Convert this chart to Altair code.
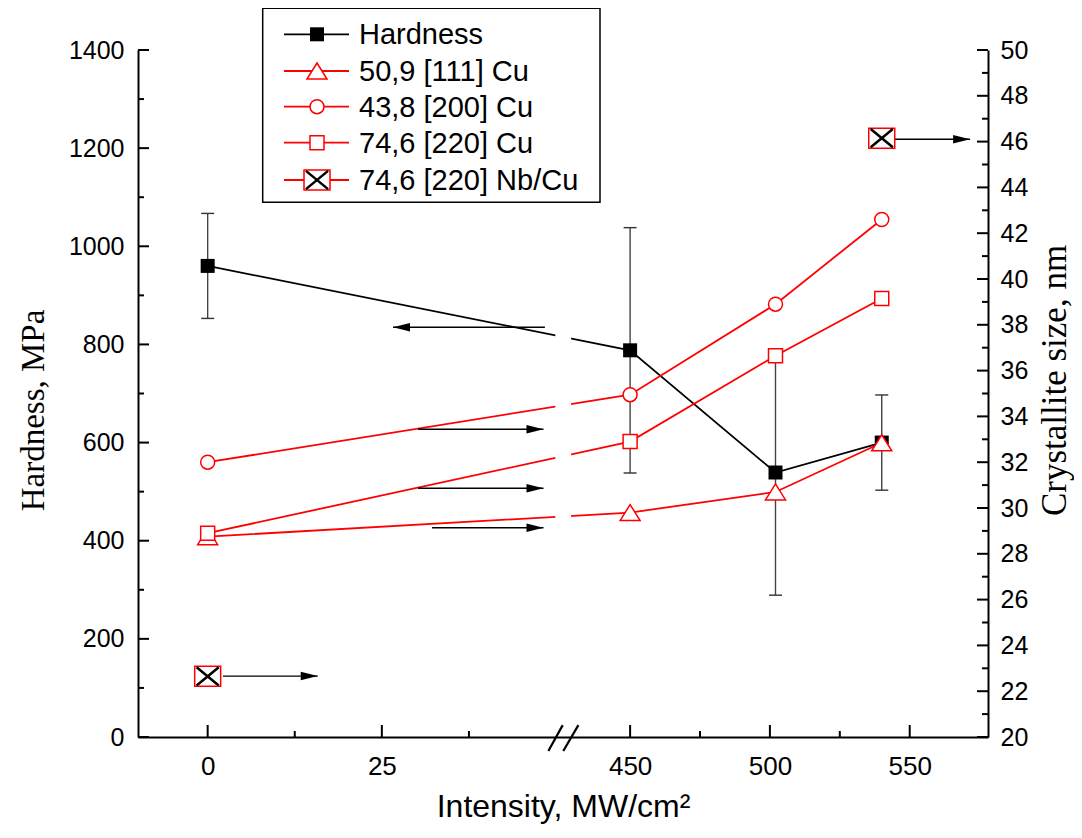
import altair as alt
import pandas as pd

# ---------------- data ----------------
intensity = [0, 450, 502, 540]
hardness = [960, 788, 539, 600]
hardness_err = [107, 250, 250, 97]

size_111 = [28.75, 29.8, 30.7, 32.85]
size_200 = [32.0, 34.95, 38.9, 42.6]
size_220 = [28.9, 32.9, 36.65, 39.15]

nbcu_intensity = [0, 540]
size_nbcu = [22.65, 46.15]

series_names = ["Hardness", "50,9 [111] Cu", "43,8 [200] Cu",
                "74,6 [220] Cu", "74,6 [220] Nb/Cu"]

x_ticks_major = [0, 25, 450, 500, 550]
x_ticks_minor = [12.5, 37.5, 475, 525]
h_ticks_major = list(range(0, 1401, 200))
h_ticks_minor = list(range(100, 1400, 200))
s_ticks_major = list(range(20, 51, 2))
s_ticks_minor = list(range(21, 50, 2))

# broken x axis: [-10, 51] then [426, 578]
x_domain = [-10, 51, 426, 578]
break_from, break_to = 49.9, 428.9

# annotation arrows
h_arrow_tail, h_arrow_tip, h_arrow_y = [48.4], [26.6], [835]
s_arrow_tail = [30.2, 30.2, 32.2, 2.2, 544.7]
s_arrow_tip = [48.2, 48.2, 48.2, 15.8, 571.6]
s_arrow_y = [33.44, 30.86, 29.14, 22.66, 46.1]

# break marks "//"
brk_x0 = [48.9, 426.1]
brk_x1 = [50.96, 431.5]
brk_y0 = [19.39, 19.39]
brk_y1 = [20.52, 20.52]

# ---------------- layout ----------------
W, H = 850, 687
RED = "#ff0000"
SANS = "Liberation Sans"
SERIF = "Liberation Serif"

xs = alt.Scale(domain=x_domain, range=[0, 425, 425, W], nice=False, zero=False)
yh = alt.Scale(domain=[0, 1400], nice=False, zero=False)
ysz = alt.Scale(domain=[20, 50], nice=False, zero=False)

ax_x = alt.Axis(values=x_ticks_major, ticks=False, grid=False, domainColor="black",
                domainWidth=2, labelFont=SANS, labelFontSize=26, labelColor="black",
                labelPadding=16, labelOverlap=False, labelFlush=False, format="d",
                title="Intensity, MW/cm²", titleFont=SANS, titleFontSize=32,
                titleFontWeight="normal", titleColor="black", titleY=54,
                titleBaseline="top")
ax_h = alt.Axis(values=h_ticks_major, ticks=False, grid=False, domainColor="black",
                domainWidth=2, labelFont=SANS, labelFontSize=25, labelColor="black",
                labelPadding=14, labelOverlap=False, labelFlush=False, format="d",
                title="Hardness, MPa", titleFont=SERIF, titleFontSize=33,
                titleFontWeight="normal", titleColor="black", titleAngle=270,
                titleX=-105, titleY=360, titleBaseline="middle", titleAlign="center",
                orient="left")
ax_s = alt.Axis(values=s_ticks_major, ticks=False, grid=False, domainColor="black",
                domainWidth=2, labelFont=SANS, labelFontSize=25, labelColor="black",
                labelPadding=12, labelOverlap=False, labelFlush=False, format="d",
                title="Crystallite size, nm", titleFont=SERIF, titleFontSize=35,
                titleFontWeight="normal", titleColor="black", titleAngle=270,
                titleX=66, titleY=330, titleBaseline="middle", titleAlign="center",
                orient="right")


def X(f):
    return alt.X(f, type="quantitative", scale=xs, axis=ax_x)


def YH(f):
    return alt.Y(f, type="quantitative", scale=yh, axis=ax_h)


def YS(f):
    return alt.Y(f, type="quantitative", scale=ysz, axis=ax_s)


# ---------------- tables ----------------
df_h = pd.DataFrame({"x": intensity, "h": hardness})
df_h["lo"] = [v - e for v, e in zip(hardness, hardness_err)]
df_h["hi"] = [v + e for v, e in zip(hardness, hardness_err)]
df_111 = pd.DataFrame({"x": intensity, "s": size_111})
df_200 = pd.DataFrame({"x": intensity, "s": size_200})
df_220 = pd.DataFrame({"x": intensity, "s": size_220})
df_nb = pd.DataFrame({"x": nbcu_intensity, "s": size_nbcu})
df_harrow = pd.DataFrame({"x0": h_arrow_tail, "x1": h_arrow_tip, "y": h_arrow_y})
df_sarrow = pd.DataFrame({"x0": s_arrow_tail, "x1": s_arrow_tip, "y": s_arrow_y})
df_xmaj = pd.DataFrame({"v": x_ticks_major})
df_xmin = pd.DataFrame({"v": x_ticks_minor})
df_hmaj = pd.DataFrame({"v": h_ticks_major})
df_hmin = pd.DataFrame({"v": h_ticks_minor})
df_smaj = pd.DataFrame({"v": s_ticks_major})
df_smin = pd.DataFrame({"v": s_ticks_minor})
df_gap = pd.DataFrame({"x0": [break_from], "x1": [break_to], "y0": [20.3], "y1": [50]})
df_brk = pd.DataFrame({"x0": brk_x0, "x1": brk_x1, "y0": brk_y0, "y1": brk_y1})

TRI = "M-1,0.8L0,-0.8L1,0.8Z"
BOX = "M-1,-0.77H1V0.77H-1Z"
XCROSS = "M-0.85,-0.7L0.85,0.7M-0.85,0.7L0.85,-0.7"
HEAD_R = "M-2,-0.5L0,0L-2,0.5Z"
HEAD_L = "M2,-0.5L0,0L2,0.5Z"

# ---------------- left (hardness) layer ----------------
eb = alt.Chart(df_h).mark_rule(color="#444444", strokeWidth=1.4).encode(
    x=X("x"), y=YH("lo"), y2="hi")
cap_hi = alt.Chart(df_h).mark_rule(color="#333333", strokeWidth=1.4, xOffset=-6.5,
                                    x2Offset=6.5).encode(x=X("x"), x2="x", y=YH("hi"))
cap_lo = alt.Chart(df_h).mark_rule(color="#333333", strokeWidth=1.4, xOffset=-6.5,
                                    x2Offset=6.5).encode(x=X("x"), x2="x", y=YH("lo"))
h_line = alt.Chart(df_h).mark_line(color="black", strokeWidth=1.8).encode(x=X("x"), y=YH("h"))
h_pts = alt.Chart(df_h).mark_point(shape="square", size=196, filled=True, color="black",
                                   opacity=1).encode(x=X("x"), y=YH("h"))
h_arr = alt.Chart(df_harrow).mark_rule(color="black", strokeWidth=1.4).encode(
    x=X("x0"), x2="x1", y=YH("y"))
h_head = alt.Chart(df_harrow).mark_point(shape=HEAD_L, size=289, filled=True, color="black",
                                         opacity=1).encode(x=X("x1"), y=YH("y"))
lt_maj = alt.Chart(df_hmaj).mark_rule(color="black", strokeWidth=2).encode(
    y=YH("v"), x=alt.value(0), x2=alt.value(11))
lt_min = alt.Chart(df_hmin).mark_rule(color="black", strokeWidth=2).encode(
    y=YH("v"), x=alt.value(0), x2=alt.value(6))
bt_maj = alt.Chart(df_xmaj).mark_rule(color="black", strokeWidth=2).encode(
    x=X("v"), y=alt.value(H - 12), y2=alt.value(H))
bt_min = alt.Chart(df_xmin).mark_rule(color="black", strokeWidth=2).encode(
    x=X("v"), y=alt.value(H - 6), y2=alt.value(H))

left = alt.layer(eb, cap_hi, cap_lo, h_line, h_pts, h_arr, h_head,
                 lt_maj, lt_min, bt_maj, bt_min)

# ---------------- right (crystallite size) layer ----------------
def red_series(df, shape, size):
    ln = alt.Chart(df).mark_line(color=RED, strokeWidth=1.8).encode(x=X("x"), y=YS("s"))
    pt = alt.Chart(df).mark_point(shape=shape, size=size, fill="white", filled=False,
                                  stroke=RED, strokeWidth=1.5, opacity=1,
                                  fillOpacity=1).encode(x=X("x"), y=YS("s"))
    return ln, pt


l111, p111 = red_series(df_111, TRI, 400)
l200, p200 = red_series(df_200, "circle", 196)
l220, p220 = red_series(df_220, "square", 196)

gap = alt.Chart(df_gap).mark_rect(color="white").encode(
    x=X("x0"), x2="x1", y=YS("y0"), y2="y1")
s_arr = alt.Chart(df_sarrow).mark_rule(color="black", strokeWidth=1.4).encode(
    x=X("x0"), x2="x1", y=YS("y"))
s_head = alt.Chart(df_sarrow).mark_point(shape=HEAD_R, size=289, filled=True, color="black",
                                         opacity=1).encode(x=X("x1"), y=YS("y"))
nb_box = alt.Chart(df_nb).mark_point(shape=BOX, size=676, fill="white", filled=False,
                                     stroke=RED, strokeWidth=1.5, opacity=1,
                                     fillOpacity=1).encode(x=X("x"), y=YS("s"))
nb_x = alt.Chart(df_nb).mark_point(shape=XCROSS, size=676, filled=False, stroke="black",
                                   strokeWidth=2.5, opacity=1).encode(x=X("x"), y=YS("s"))
rt_maj = alt.Chart(df_smaj).mark_rule(color="black", strokeWidth=2).encode(
    y=YS("v"), x=alt.value(W - 11), x2=alt.value(W))
rt_min = alt.Chart(df_smin).mark_rule(color="black", strokeWidth=2).encode(
    y=YS("v"), x=alt.value(W - 6), x2=alt.value(W))
brk = alt.Chart(df_brk).mark_rule(color="black", strokeWidth=2.2).encode(
    x=X("x0"), x2="x1", y=YS("y0"), y2="y1")

right = alt.layer(l111, l200, l220, p111, p200, p220, gap, s_arr, s_head,
                  nb_box, nb_x, rt_maj, rt_min, brk)

# ---------------- legend (drawn by hand, in pixels of the plot area) ----------------
leg_rows = [-15.7, 21.0, 56.7, 92.7, 130.0]
one = pd.DataFrame({"k": [0]})
legend_layers = [
    alt.Chart(one).mark_rect(fill="white", stroke="black", strokeWidth=1.5).encode(
        x=alt.value(124.7), x2=alt.value(462), y=alt.value(-41.7), y2=alt.value(152.3))
]
marker_styles = [
    [dict(shape="square", size=196, filled=True, color="black", opacity=1)],
    [dict(shape=TRI, size=400, fill="white", filled=False, stroke=RED, strokeWidth=1.5, opacity=1, fillOpacity=1)],
    [dict(shape="circle", size=196, fill="white", filled=False, stroke=RED, strokeWidth=1.5, opacity=1, fillOpacity=1)],
    [dict(shape="square", size=196, fill="white", filled=False, stroke=RED, strokeWidth=1.5, opacity=1, fillOpacity=1)],
    [dict(shape=BOX, size=676, fill="white", filled=False, stroke=RED, strokeWidth=1.5, opacity=1, fillOpacity=1),
     dict(shape=XCROSS, size=676, filled=False, stroke="black", strokeWidth=2.5, opacity=1)],
]
line_colors = ["black", RED, RED, RED, RED]
for i, name in enumerate(series_names):
    base = alt.Chart(pd.DataFrame({"label": [name]}))
    yv = leg_rows[i]
    legend_layers.append(base.mark_rule(color=line_colors[i], strokeWidth=1.8).encode(
        x=alt.value(146), x2=alt.value(211), y=alt.value(yv)))
    for m in marker_styles[i]:
        legend_layers.append(base.mark_point(**m).encode(x=alt.value(179), y=alt.value(yv)))
    legend_layers.append(base.mark_text(align="left", baseline="middle", font=SANS,
                                        fontSize=29, color="black").encode(
        x=alt.value(221), y=alt.value(yv + 1), text="label:N"))

legend = alt.layer(*legend_layers)

chart = alt.layer(left, right, legend).resolve_scale(y="independent").properties(
    width=W, height=H,
    autosize=alt.AutoSizeParams(type="none"),
    padding={"left": 130, "top": 42, "right": 86, "bottom": 87},
    background="white",
).configure_view(stroke=None)

chart.save("out.html", embed_options={"renderer": "svg", "actions": False})
